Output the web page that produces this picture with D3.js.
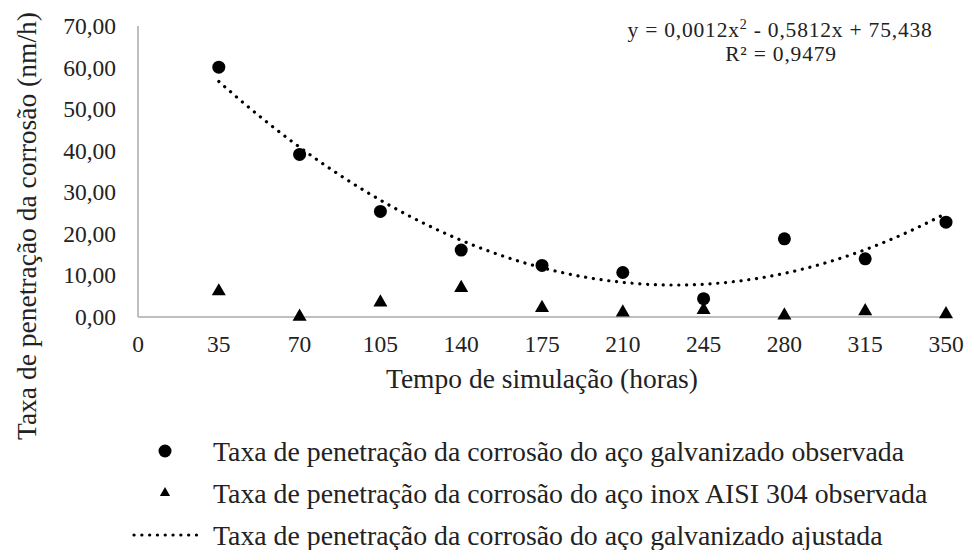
<!DOCTYPE html>
<html>
<head>
<meta charset="utf-8">
<script src="https://cdn.jsdelivr.net/npm/d3@7"></script>
<style>
  html, body { margin: 0; padding: 0; background: #fff; }
  text { font-family: 'Liberation Serif', 'Tinos', 'Times New Roman', 'DejaVu Serif', serif; }
</style>
</head>
<body>
<svg id="chart" width="968" height="550"></svg>
<script>
// Simulation time (hours)
const hours = [35, 70, 105, 140, 175, 210, 245, 280, 315, 350];
// Observed corrosion penetration rate, galvanized steel (nm/h)
const galvanized = [60.1, 39.1, 25.4, 16.1, 12.4, 10.7, 4.4, 18.8, 14.0, 22.8];
// Observed corrosion penetration rate, AISI 304 stainless steel (nm/h)
const stainless = [6.2, 0.1, 3.5, 7.0, 2.2, 1.1, 1.7, 0.4, 1.4, 0.7];
// Printed trendline equation
const equationText = ["0,0012", "0,5812", "75,438"];
const r2Text = "0,9479";
// Axis ticks
const xTicks = [0, 35, 70, 105, 140, 175, 210, 245, 280, 315, 350];
const yTicks = [0, 10, 20, 30, 40, 50, 60, 70];

const legendLabels = [
  "Taxa de penetração da corrosão do aço galvanizado observada",
  "Taxa de penetração da corrosão do aço inox AISI 304 observada",
  "Taxa de penetração da corrosão do aço galvanizado ajustada"
];

const FONT = "'Liberation Serif', 'Tinos', 'Times New Roman', 'DejaVu Serif', serif";
const svg = d3.select("#chart");
const x = d3.scaleLinear().domain([0, 350]).range([138, 946]);
const y = d3.scaleLinear().domain([0, 70]).range([317, 26]);

const comma = v => d3.format(".2f")(v).replace(".", ",");

// Least-squares quadratic trendline through the galvanized observations
function quadFit(xs, ys) {
  const S = k => d3.sum(xs, v => Math.pow(v, k));
  const T = k => d3.sum(xs, (v, i) => Math.pow(v, k) * ys[i]);
  const M = [[S(4), S(3), S(2)], [S(3), S(2), S(1)], [S(2), S(1), xs.length]];
  const r = [T(2), T(1), T(0)];
  for (let c = 0; c < 3; c++) {
    for (let r2 = c + 1; r2 < 3; r2++) {
      const f = M[r2][c] / M[c][c];
      for (let k = c; k < 3; k++) M[r2][k] -= f * M[c][k];
      r[r2] -= f * r[c];
    }
  }
  const s = [0, 0, 0];
  for (let c = 2; c >= 0; c--) {
    let acc = r[c];
    for (let k = c + 1; k < 3; k++) acc -= M[c][k] * s[k];
    s[c] = acc / M[c][c];
  }
  return s;
}
const [qa, qb, qc] = quadFit(hours, galvanized);
const fit = t => qa * t * t + qb * t + qc;

// Axis lines
svg.append("line")
  .attr("x1", x(0)).attr("x2", x(0))
  .attr("y1", y(70)).attr("y2", y(0))
  .attr("stroke", "#bfbfbf").attr("stroke-width", 2);
svg.append("line")
  .attr("x1", x(0)).attr("x2", x(350))
  .attr("y1", y(0)).attr("y2", y(0))
  .attr("stroke", "#bfbfbf").attr("stroke-width", 2);

// Y tick labels
svg.append("g").selectAll("text").data(yTicks).join("text")
  .attr("font-family", FONT)
  .attr("x", 116).attr("y", d => y(d)).attr("dy", "0.34em")
  .attr("text-anchor", "end").attr("font-size", 23.5).attr("fill", "#222")
  .text(comma);

// X tick labels
svg.append("g").selectAll("text").data(xTicks).join("text")
  .attr("font-family", FONT)
  .attr("x", d => x(d)).attr("y", 352)
  .attr("text-anchor", "middle").attr("font-size", 23.5).attr("fill", "#222")
  .text(d => d);

// Axis titles
svg.append("text")
  .attr("font-family", FONT)
  .attr("x", (x(0) + x(350)) / 2).attr("y", 388)
  .attr("text-anchor", "middle").attr("font-size", 27.5).attr("fill", "#222")
  .text("Tempo de simulação (horas)");
svg.append("text")
  .attr("font-family", FONT)
  .attr("transform", "translate(36,226) rotate(-90)")
  .attr("text-anchor", "middle").attr("font-size", 27.5).attr("fill", "#222")
  .text("Taxa de penetração da corrosão (nm/h)");

// Fitted curve
const fitX = d3.range(35, 350.5, 1);
svg.append("path")
  .datum(fitX)
  .attr("d", d3.line().x(d => x(d)).y(d => y(fit(d))))
  .attr("fill", "none").attr("stroke", "#000")
  .attr("stroke-width", 3.2).attr("stroke-linecap", "round")
  .attr("stroke-dasharray", "0.1 7.7");

// Markers
const tri = d3.symbol().type(d3.symbolTriangle).size(85);
svg.append("g").selectAll("path").data(hours).join("path")
  .attr("transform", (d, i) => `translate(${x(d)},${y(stainless[i])})`)
  .attr("d", tri).attr("fill", "#000");
svg.append("g").selectAll("circle").data(hours).join("circle")
  .attr("cx", d => x(d)).attr("cy", (d, i) => y(galvanized[i]))
  .attr("r", 6.5).attr("fill", "#000");

// Regression equation
const eq = svg.append("text")
  .attr("font-family", FONT)
  .attr("x", 780).attr("y", 37).attr("text-anchor", "middle")
  .attr("font-size", 21.5).attr("letter-spacing", 0.8).attr("fill", "#222");
eq.append("tspan").text("y = " + equationText[0] + "x");
eq.append("tspan").attr("dy", -8).attr("font-size", 14).text("2");
eq.append("tspan").attr("dy", 8)
  .text("  -  " + equationText[1] + "x  +  " + equationText[2]);
svg.append("text")
  .attr("font-family", FONT)
  .attr("x", 781).attr("y", 61).attr("text-anchor", "middle")
  .attr("font-size", 21.5).attr("letter-spacing", 0.8).attr("fill", "#222")
  .text("R² = " + r2Text);

// Legend
const lg = svg.append("g");
const rows = [451, 493, 535];
lg.append("circle").attr("cx", 165).attr("cy", rows[0]).attr("r", 6.5).attr("fill", "#000");
lg.append("path").attr("transform", `translate(165,${rows[1]})`)
  .attr("d", d3.symbol().type(d3.symbolTriangle).size(45)).attr("fill", "#000");
lg.append("line").attr("x1", 134).attr("x2", 198).attr("y1", rows[2]).attr("y2", rows[2])
  .attr("stroke", "#000").attr("stroke-width", 3.2).attr("stroke-linecap", "round")
  .attr("stroke-dasharray", "0.1 7.7");
lg.selectAll("text").data(legendLabels).join("text")
  .attr("font-family", FONT)
  .attr("x", 213).attr("y", (d, i) => rows[i]).attr("dy", "0.36em")
  .attr("font-size", 27.8).attr("fill", "#222")
  .text(d => d);
</script>
</body>
</html>
